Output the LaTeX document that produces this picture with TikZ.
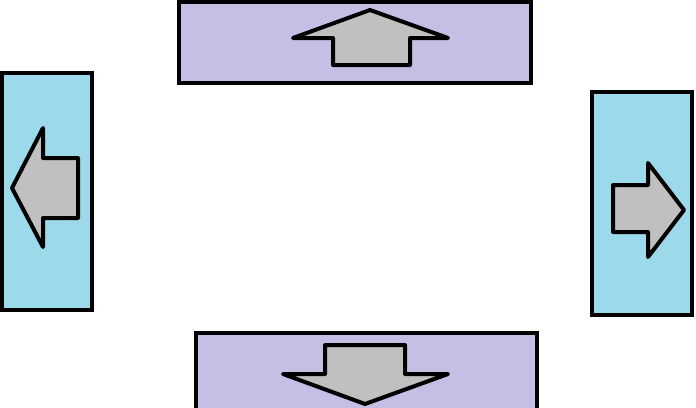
\documentclass[tikz,border=0pt]{standalone}
\definecolor{lav}{HTML}{C6BFE5}
\definecolor{sky}{HTML}{9CD9EA}
\definecolor{arrowgrey}{HTML}{C0C0C0}
\begin{document}
\begin{tikzpicture}[x=1pt,y=-1pt,
  panel/.style={draw=black,line width=4pt},
  bigarrow/.style={draw=black,fill=arrowgrey,line width=4pt,line join=round,line cap=round}]
\useasboundingbox (0,0) rectangle (696,407);
\clip (0,0) rectangle (696,407);
% top panel
\draw[panel,fill=lav] (179,2) rectangle (531,83);
\draw[bigarrow] (370,10) -- (448,38) -- (410,38) -- (410,65) -- (333,65) -- (333,38) -- (293,38) -- cycle;
% left panel
\draw[panel,fill=sky] (2,73) rectangle (92,310);
\draw[bigarrow] (12,188) -- (43,128) -- (43,158) -- (78,158) -- (78,218) -- (43,218) -- (43,247) -- cycle;
% right panel
\draw[panel,fill=sky] (592,92) rectangle (692,315);
\draw[bigarrow] (684,210) -- (648,163) -- (648,185) -- (613,185) -- (613,232) -- (648,232) -- (648,257) -- cycle;
% bottom panel
\draw[panel,fill=lav] (196,333) rectangle (537,415);
\draw[bigarrow] (365,404) -- (448,374) -- (405,374) -- (405,345) -- (325,345) -- (325,374) -- (283,374) -- cycle;
\end{tikzpicture}
\end{document}
